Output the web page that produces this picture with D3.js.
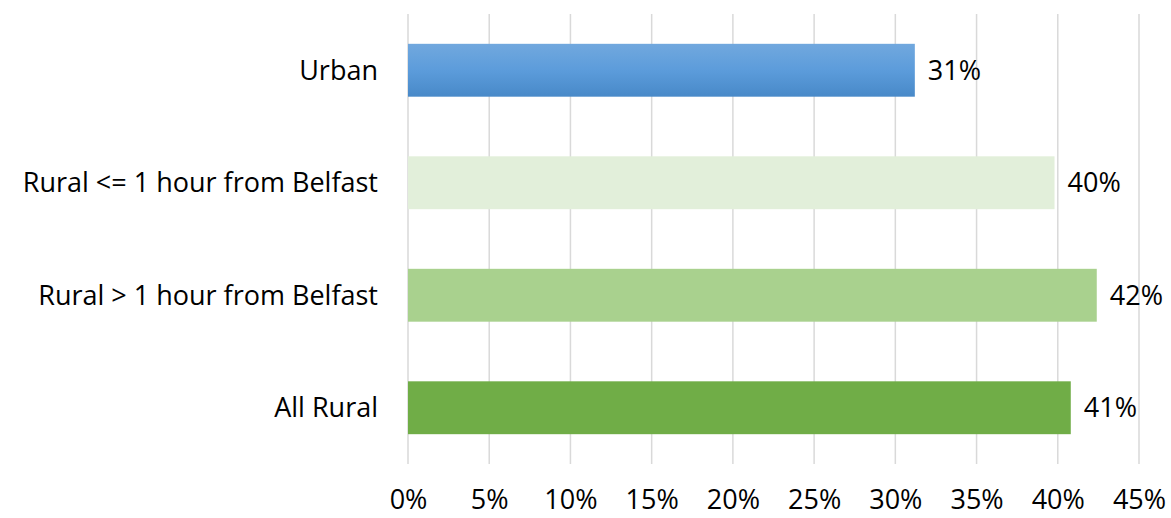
<!DOCTYPE html>
<html><head><meta charset="utf-8">
<script src="https://cdn.jsdelivr.net/npm/d3@7"></script>
<style>body{margin:0;background:#fff}svg{display:block}text{font-family:"Open Sans",sans-serif;fill:#000}</style>
</head><body><svg id="c" width="1171" height="518"></svg>
<script>
const categories = ["Urban", "Rural <= 1 hour from Belfast", "Rural > 1 hour from Belfast", "All Rural"];
const values = [31.2, 39.8, 42.4, 40.8];
const labels = ["31%", "40%", "42%", "41%"];
const colors = ["url(#gUrban)", "#e2efda", "#a9d18e", "#70ad47"];
const ticks = [0, 5, 10, 15, 20, 25, 30, 35, 40, 45];

const svg = d3.select("#c");
const fs = 27;
const m = {left: 408, right: 1139, top: 14, bottom: 464};
const x = d3.scaleLinear().domain([0, 45]).range([m.left, m.right]);
const y = d3.scaleBand().domain(categories).range([m.top, m.bottom]).paddingInner(0.53).paddingOuter(0.265);

const defs = svg.append("defs");
const g = defs.append("linearGradient").attr("id", "gUrban").attr("x1", 0).attr("y1", 0).attr("x2", 0).attr("y2", 1);
g.append("stop").attr("offset", "0%").attr("stop-color", "#71a8de");
g.append("stop").attr("offset", "50%").attr("stop-color", "#5c9cdb");
g.append("stop").attr("offset", "100%").attr("stop-color", "#4889c8");

// gridlines
svg.append("g").selectAll("line").data(ticks).join("line")
  .attr("x1", d => x(d)).attr("x2", d => x(d))
  .attr("y1", m.top).attr("y2", m.bottom)
  .attr("stroke", "#d9d9d9").attr("stroke-width", 1.5);

// bars
svg.append("g").selectAll("rect").data(categories).join("rect")
  .attr("x", x(0)).attr("y", d => y(d))
  .attr("width", (d, i) => x(values[i]) - x(0))
  .attr("height", y.bandwidth())
  .attr("fill", (d, i) => colors[i]);

// value labels
svg.append("g").selectAll("text").data(categories).join("text")
  .attr("x", (d, i) => x(values[i]) + 13)
  .attr("y", d => y(d) + y.bandwidth() / 2)
  .attr("dy", "0.35em")
  .attr("font-size", fs)
  .text((d, i) => labels[i]);

// category labels
svg.append("g").selectAll("text").data(categories).join("text")
  .attr("x", 378)
  .attr("y", d => y(d) + y.bandwidth() / 2)
  .attr("dy", "0.35em")
  .attr("text-anchor", "end")
  .attr("font-size", fs)
  .text(d => d);

// x axis tick labels
const ax = svg.append("g").attr("transform", `translate(0,${m.bottom})`)
  .call(d3.axisBottom(x).tickValues(ticks).tickFormat(d => d + "%").tickSize(0).tickPadding(0));
ax.select(".domain").remove();
ax.selectAll("text").attr("dy", null).attr("y", 45).attr("font-size", fs).attr("font-family", "'Open Sans', sans-serif").attr("fill", "#000");
</script></body></html>
